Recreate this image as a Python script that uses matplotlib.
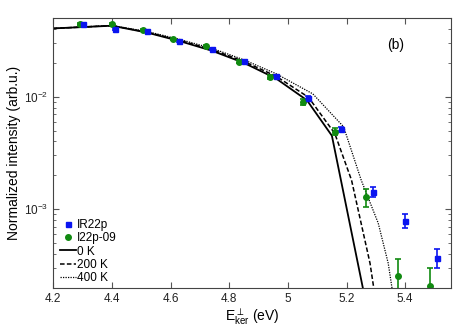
import numpy as np
import matplotlib
matplotlib.use("Agg")
import matplotlib.pyplot as plt
from matplotlib.lines import Line2D
from matplotlib.ticker import LogLocator, NullFormatter

plt.rcParams['font.family'] = ['Liberation Sans', 'DejaVu Sans']
plt.rcParams['mathtext.fontset'] = 'custom'
plt.rcParams['mathtext.rm'] = 'Liberation Sans'
plt.rcParams['mathtext.it'] = 'Liberation Sans'

# experimental data: IR22p (blue squares)
ir_x = [4.30, 4.41, 4.52, 4.63, 4.74, 4.85, 4.96, 5.07, 5.18, 5.29, 5.40, 5.51]
ir_y = [0.0442, 0.0404, 0.0382, 0.0315, 0.0264, 0.0208, 0.0153, 0.0098, 0.0052,
        0.00143, 0.00079, 0.00037]
ir_err = [0.0008, 0.0008, 0.0007, 0.0006, 0.0006, 0.0005, 0.0004, 0.0003, 0.0002,
          0.00014, 0.00011, 0.00007]

# I22p-09 (green circles)
i22_x = [4.29, 4.40, 4.505, 4.61, 4.72, 4.835, 4.94, 5.05, 5.16, 5.265, 5.375, 5.485]
i22_y = [0.0442, 0.0443, 0.0395, 0.0326, 0.0283, 0.0205, 0.0150, 0.0090, 0.0049,
         0.00127, 0.000253, 0.000209]
i22_err = [0.0010, 0.0010, 0.0009, 0.0008, 0.0008, 0.0007, 0.0006, 0.0006, 0.00035,
           0.00023, 0.000104, 0.000093]

# model curves
m0_x = [4.20, 4.40, 4.52, 4.63, 4.74, 4.85, 4.96, 5.065, 5.15, 5.27]
m0_y = [0.0405, 0.0428, 0.0372, 0.0313, 0.0257, 0.0200, 0.0145, 0.0093, 0.0045, 0.00013]

m200_x = [4.20, 4.40, 4.52, 4.63, 4.74, 4.85, 4.96, 5.07, 5.16, 5.217, 5.28, 5.31]
m200_y = [0.0405, 0.0429, 0.0375, 0.0318, 0.0263, 0.0206, 0.0152, 0.0099, 0.0047,
          0.00181, 0.00033, 0.00010]

m400_x = [4.20, 4.40, 4.52, 4.63, 4.74, 4.85, 4.96, 5.085, 5.19, 5.25, 5.308, 5.342, 5.37]
m400_y = [0.0405, 0.0430, 0.0380, 0.0324, 0.0270, 0.0213, 0.0160, 0.0106, 0.0054,
          0.00181, 0.00075, 0.00033, 0.00011]

blue = '#0a14f0'
green = '#118a11'

fig, ax = plt.subplots(figsize=(4.71, 3.33), dpi=100)
fig.subplots_adjust(left=0.113, right=0.9575, top=0.947, bottom=0.136)

ax.plot(m0_x, m0_y, color='black', lw=1.3, ls='-')
ax.plot(m200_x, m200_y, color='black', lw=1.1, ls=(0, (3, 1.5)))
ax.plot(m400_x, m400_y, color='black', lw=0.9, ls=(0, (1, 1)))

ax.errorbar(i22_x, i22_y, yerr=i22_err, fmt='o', color=green, ms=4,
            capsize=2.5, elinewidth=1.2, capthick=1.2)
ax.errorbar(ir_x, ir_y, yerr=ir_err, fmt='s', color=blue, ms=3.6,
            capsize=2.5, elinewidth=1.2, capthick=1.2)

ax.set_yscale('log')
ax.set_xlim(4.2, 5.556)
ax.set_ylim(2e-4, 0.0505)
ax.set_xticks([4.2, 4.4, 4.6, 4.8, 5.0, 5.2, 5.4])
ax.set_xticklabels(['4.2', '4.4', '4.6', '4.8', '5', '5.2', '5.4'])
ax.yaxis.set_major_locator(LogLocator(base=10, numticks=10))
ax.yaxis.set_minor_locator(LogLocator(base=10, subs=np.arange(2, 10), numticks=20))
ax.yaxis.set_minor_formatter(NullFormatter())

for s in ax.spines.values():
    s.set_color('#444444')
ax.tick_params(which='both', direction='in', top=True, right=True,
               colors='#555555', labelcolor='#222222', labelsize=8.5)
ax.tick_params(which='major', length=4)
ax.tick_params(which='minor', length=2.5)

ax.set_xlabel(r'E$_{\rm ker}^{\perp}$ (eV)', fontsize=10, labelpad=1)
ax.set_ylabel('Normalized intensity (arb.u.)', fontsize=10, labelpad=2)

ax.text(0.86, 0.90, '(b)', transform=ax.transAxes, fontsize=10,
        ha='center', va='center')

handles = [
    Line2D([], [], ls='none', marker='s', color=blue, ms=3.6),
    Line2D([], [], ls='none', marker='o', color=green, ms=4),
    Line2D([], [], color='black', lw=1.3, ls='-'),
    Line2D([], [], color='black', lw=1.1, ls=(0, (3, 1.5))),
    Line2D([], [], color='black', lw=0.9, ls=(0, (1, 1))),
]
labels = ['IR22p', 'I22p-09', '0 K', '200 K', '400 K']
ax.legend(handles, labels, loc='lower left', frameon=False, fontsize=8.5,
          handlelength=1.4, handletextpad=0.05, labelspacing=0.12,
          borderaxespad=0.0, bbox_to_anchor=(0.005, -0.005))

fig.savefig('out.png', dpi=100)
